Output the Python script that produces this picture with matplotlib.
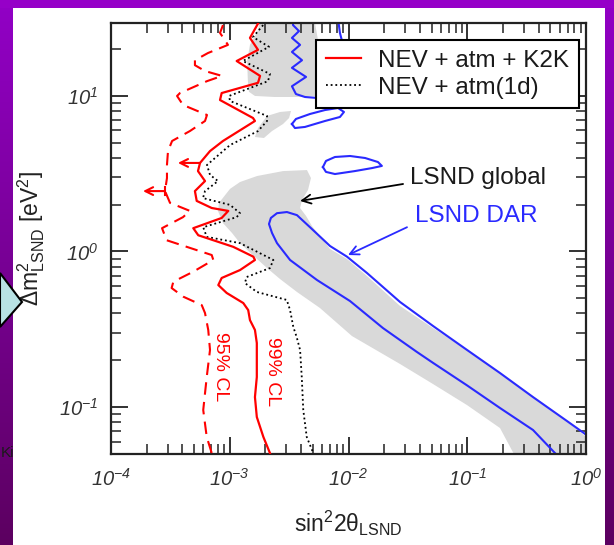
import numpy as np
import matplotlib
matplotlib.use('Agg')
import matplotlib.pyplot as plt
from matplotlib.patches import Polygon
from matplotlib.lines import Line2D
from matplotlib.colors import LinearSegmentedColormap
import matplotlib.ticker as mticker

plt.rcParams['font.family'] = ['Liberation Sans', 'DejaVu Sans']
plt.rcParams['mathtext.fontset'] = 'custom'
plt.rcParams['mathtext.rm'] = 'Liberation Sans'
plt.rcParams['mathtext.it'] = 'Liberation Sans:italic'
plt.rcParams['mathtext.bf'] = 'Liberation Sans:bold'
plt.rcParams['mathtext.sf'] = 'Liberation Sans:italic'

# ---------------- data (sin^2 2theta, dm^2 [eV^2]) ----------------
# 99% CL, NEV + atm + K2K (solid red)
cl99_x = [1.74e-3, 1.48e-3, 1.73e-3, 1.144e-3, 1.80e-3, 1.73e-3, 8.55e-4, 8.28e-4, 1.57e-3, 1.63e-3,
          8.77e-4, 6.82e-4, 5.62e-4, 5.40e-4, 6.19e-4, 5.09e-4, 5.27e-4, 7.05e-4, 9.72e-4, 8.55e-4,
          4.93e-4, 5.43e-4, 1.07e-3, 1.58e-3, 1.63e-3, 1.22e-3, 8.55e-4, 8.01e-4, 9.42e-4, 1.30e-3,
          1.43e-3, 1.48e-3, 1.63e-3, 1.69e-3, 1.69e-3, 1.69e-3, 1.63e-3, 1.69e-3, 1.92e-3, 2.18e-3]
cl99_y = [29.3, 23.5, 19.7, 16.7, 13.4, 12.1, 10.4, 9.38, 7.19, 6.88,
          5.12, 4.41, 3.70, 3.28, 2.83, 2.44, 2.11, 1.90, 1.82, 1.64,
          1.41, 1.27, 1.07, 0.925, 0.881, 0.759, 0.675, 0.608, 0.541, 0.466,
          0.420, 0.362, 0.313, 0.258, 0.2007, 0.156, 0.116, 0.0864, 0.0643, 0.0507]

# 95% CL (dashed red)
cl95_x = [8.77e-4, 8.28e-4, 9.66e-4, 6.56e-4, 5.09e-4, 5.09e-4, 6.19e-4, 8.61e-4, 6.43e-4, 3.81e-4,
          3.60e-4, 4.04e-4, 6.43e-4, 6.19e-4, 4.62e-4, 3.27e-4, 3.02e-4, 2.96e-4, 2.96e-4, 2.85e-4,
          3.14e-4, 4.62e-4, 4.04e-4, 2.69e-4, 2.94e-4, 4.34e-4, 7.05e-4, 7.27e-4, 4.93e-4, 3.35e-4,
          3.24e-4, 4.06e-4, 5.81e-4, 6.19e-4, 6.59e-4, 6.82e-4, 6.40e-4, 5.98e-4, 6.40e-4, 7.05e-4]
cl95_y = [28.4, 25.3, 21.2, 18.8, 16.9, 15.7, 14.4, 13.4, 12.4, 10.4,
          9.96, 8.72, 7.52, 6.88, 5.93, 5.12, 4.41, 3.59, 2.96, 2.44,
          2.05, 1.82, 1.66, 1.41, 1.18, 1.07, 0.948, 0.881, 0.741, 0.639,
          0.582, 0.512, 0.452, 0.402, 0.313, 0.233, 0.156, 0.0958, 0.0643, 0.0507]

# NEV + atm(1d) (dotted black)
atm_x = [1.91e-3, 1.57e-3, 2.14e-3, 1.29e-3, 2.18e-3, 2.10e-3, 9.86e-4, 1.005e-3, 2.06e-3, 2.06e-3,
         1.73e-3, 1.005e-3, 6.43e-4, 6.82e-4, 7.96e-4, 6.19e-4, 5.95e-4, 1.005e-3, 1.22e-3, 1.144e-3,
         5.98e-4, 6.40e-4, 1.22e-3, 2.33e-3, 2.18e-3, 1.39e-3, 1.34e-3, 1.69e-3, 3.02e-3, 3.22e-3,
         3.43e-3, 3.66e-3, 3.91e-3, 4.04e-3, 4.16e-3, 4.45e-3, 5.05e-3]
atm_y = [28.4, 23.8, 20.6, 16.7, 13.8, 12.4, 9.96, 9.25, 7.41, 6.88,
         5.93, 4.82, 3.59, 3.10, 2.83, 2.44, 2.20, 1.99, 1.76, 1.66,
         1.43, 1.24, 1.13, 0.881, 0.782, 0.685, 0.627, 0.549, 0.488, 0.420,
         0.327, 0.282, 0.233, 0.156, 0.0958, 0.0643, 0.0507]

# LSND global allowed region (grey), three pieces
glob_top_x = [1.87e-3, 5.02e-3, 5.53e-3, 5.53e-3, 3.91e-3, 2.40e-3, 1.63e-3, 1.45e-3, 1.42e-3, 1.40e-3, 1.48e-3, 1.73e-3, 1.87e-3]
glob_top_y = [35.0, 35.0, 22.8, 9.96, 9.81, 9.81, 9.96, 10.6, 12.6, 16.7, 21.2, 26.4, 35.0]
glob_mid_x = [1.63e-3, 1.73e-3, 2.06e-3, 2.65e-3, 3.28e-3, 3.16e-3, 2.81e-3, 2.27e-3, 1.94e-3]
glob_mid_y = [5.43, 6.20, 7.41, 7.86, 7.98, 7.19, 6.58, 5.93, 5.35]
glob_main_x = [8.12e-4, 1.005e-3, 1.22e-3, 1.70e-3, 2.81e-3, 4.47e-3, 4.83e-3, 4.56e-3, 4.06e-3, 3.91e-3,
               4.39e-3, 4.93e-3, 6.99e-3, 9.71e-3, 1.43e-2, 2.72e-2, 5.15e-2, 9.95e-2, 0.1887, 0.358,
               0.692, 1.0, 1.0, 0.289, 0.1887, 9.95e-2, 5.15e-2, 2.72e-2, 1.07e-2, 5.75e-3,
               3.68e-3, 2.65e-3, 2.06e-3, 1.63e-3, 1.22e-3, 1.045e-3, 8.77e-4, 7.96e-4]
glob_main_y = [2.05, 2.52, 2.79, 3.05, 3.28, 3.33, 2.96, 2.48, 2.14, 1.90,
               1.69, 1.455, 1.036, 0.894, 0.695, 0.446, 0.322, 0.233, 0.1656, 0.1178,
               0.0814, 0.0643, 0.04, 0.04, 0.0734, 0.1031, 0.1407, 0.1891, 0.286, 0.433,
               0.549, 0.665, 0.782, 0.92, 1.13, 1.313, 1.52, 1.82]

# LSND DAR contour (blue)
dar_x = [1.19, 0.692, 0.358, 0.1887, 9.95e-2, 7.16e-2, 5.15e-2, 2.72e-2, 1.43e-2, 9.71e-3,
         6.99e-3, 4.74e-3, 3.68e-3, 3.03e-3, 2.50e-3, 2.22e-3, 2.14e-3, 2.27e-3, 2.50e-3, 3.22e-3,
         5.43e-3, 1.03e-2, 1.95e-2, 3.77e-2, 5.15e-2, 9.95e-2, 0.1887, 0.358, 0.548, 0.604]
dar_y = [0.0606, 0.0814, 0.116, 0.1656, 0.233, 0.278, 0.332, 0.473, 0.727, 0.925,
         1.083, 1.43, 1.71, 1.79, 1.76, 1.64, 1.50, 1.313, 1.13, 0.881,
         0.655, 0.480, 0.322, 0.226, 0.1924, 0.1380, 0.0987, 0.0713, 0.0507, 0.0471]
dar_top1_x = [3.41e-3, 3.41e-3, 3.83e-3, 3.34e-3, 3.91e-3, 3.34e-3, 4.06e-3, 3.34e-3, 4.39e-3, 3.34e-3, 3.61e-3, 4.30e-3, 5.53e-3, 6.99e-3]
dar_top1_y = [35.0, 28.4, 26.0, 23.5, 21.2, 19.1, 16.9, 15.1, 13.2, 11.5, 10.25, 9.81, 9.66, 9.81]
dar_top2_x = [8.0e-3, 8.47e-3, 8.99e-3, 9.33e-3]
dar_top2_y = [35.0, 25.3, 21.2, 16.9]
dar_isl1_x = [3.34e-3, 3.61e-3, 4.74e-3, 6.34e-3, 8.16e-3, 9.16e-3, 8.47e-3, 6.34e-3, 4.30e-3, 3.54e-3, 3.34e-3]
dar_isl1_y = [6.58, 7.09, 7.63, 8.09, 8.34, 7.86, 7.30, 6.88, 6.30, 6.20, 6.58]
dar_isl2_x = [6.09e-3, 6.46e-3, 7.69e-3, 1.03e-2, 1.38e-2, 1.77e-2, 1.91e-2, 1.58e-2, 1.13e-2, 7.69e-3, 6.46e-3, 6.09e-3]
dar_isl2_y = [3.48, 3.81, 4.04, 4.10, 3.98, 3.75, 3.54, 3.43, 3.28, 3.14, 3.24, 3.48]

xticks = [1e-4, 1e-3, 1e-2, 1e-1, 1e0]
xticklabels = [r'$\mathsf{10^{-4}}$', r'$\mathsf{10^{-3}}$', r'$\mathsf{10^{-2}}$',
               r'$\mathsf{10^{-1}}$', r'$\mathsf{10^{0}}$']
yticks = [1e-1, 1e0, 1e1]
yticklabels = [r'$\mathsf{10^{-1}}$', r'$\mathsf{10^{0}}$', r'$\mathsf{10^{1}}$']
legend_labels = ['NEV + atm + K2K', 'NEV + atm(1d)']

# ---------------- figure / slide background ----------------
W, H = 614, 545
fig = plt.figure(figsize=(W / 100, H / 100), dpi=100, facecolor='white')

grad = np.linspace(0, 1, 256).reshape(-1, 1)
slide_cmap = LinearSegmentedColormap.from_list('slide', ['#9200c6', '#5c0060'])
for (x0, w0) in [(0, 12.7), (605, 9)]:
    bax = fig.add_axes([x0 / W, 0, w0 / W, 1])
    bax.imshow(grad, aspect='auto', cmap=slide_cmap, extent=[0, 1, 0, 1])
    bax.set_axis_off()
tax = fig.add_axes([0, 1 - 8 / H, 1, 8 / H])
tax.set_facecolor('#9600c8')
tax.set_xticks([]); tax.set_yticks([])
for s in tax.spines.values():
    s.set_visible(False)

fig.patches.append(Polygon([[0, 1 - 273 / H], [22 / W, 1 - 302 / H], [0, 1 - 327 / H]], closed=True,
                           transform=fig.transFigure, facecolor='#b8e2e4', edgecolor='black', lw=1.5, zorder=5))
fig.text(0.5 / W, 1 - 453 / H, 'Ki', ha='left', va='center', fontsize=11, color='#1a1a1a', zorder=6)

# ---------------- main axes ----------------
ax = fig.add_axes([111 / W, (H - 454) / H, 475 / W, 431 / H])
ax.set_xscale('log')
ax.set_yscale('log')
ax.set_xlim(1e-4, 1e0)
ax.set_ylim(0.05, 29.3)

grey = '#d9d9d9'
ax.fill(glob_top_x, glob_top_y, color=grey, lw=0, zorder=1)
ax.fill(glob_mid_x, glob_mid_y, color=grey, lw=0, zorder=1)
ax.fill(glob_main_x, glob_main_y, color=grey, lw=0, zorder=1)

blue = '#2a2aff'
for bx, by in [(dar_x, dar_y), (dar_top1_x, dar_top1_y), (dar_top2_x, dar_top2_y),
               (dar_isl1_x, dar_isl1_y), (dar_isl2_x, dar_isl2_y)]:
    ax.plot(bx, by, color=blue, lw=1.5, zorder=2, solid_joinstyle='round')

ax.plot(atm_x, atm_y, color='black', lw=1.3, ls=(0, (1, 1.6)), zorder=3)
ax.plot(cl95_x, cl95_y, color='red', lw=1.5, ls=(0, (6, 3.5)), zorder=3)
ax.plot(cl99_x, cl99_y, color='red', lw=1.6, zorder=3, solid_joinstyle='round')

# arrows
ax.annotate('', xy=(3.66e-4, 3.70), xytext=(5.62e-4, 3.70),
            arrowprops=dict(arrowstyle='->', color='red', lw=1.5, mutation_scale=14, shrinkA=0, shrinkB=0), zorder=4)
ax.annotate('', xy=(1.86e-4, 2.44), xytext=(2.85e-4, 2.44),
            arrowprops=dict(arrowstyle='->', color='red', lw=1.5, mutation_scale=14, shrinkA=0, shrinkB=0), zorder=4)
ax.plot([2.85e-4, 2.85e-4], [2.30, 2.58], color='red', lw=1.5, zorder=4)

ax.annotate('', xy=(3.91e-3, 2.11), xytext=(2.88e-2, 2.71),
            arrowprops=dict(arrowstyle='->', color='black', lw=1.3, mutation_scale=16, shrinkA=0, shrinkB=0), zorder=4)
ax.text(3.30e-2, 2.96, 'LSND global', fontsize=17.5, color='#1a1a1a', ha='left', va='center', zorder=4)
ax.annotate('', xy=(9.9e-3, 0.948), xytext=(3.11e-2, 1.43),
            arrowprops=dict(arrowstyle='->', color=blue, lw=1.3, mutation_scale=16, shrinkA=0, shrinkB=0), zorder=4)
ax.text(3.63e-2, 1.69, 'LSND DAR', fontsize=17.5, color=blue, ha='left', va='center', zorder=4)

ax.text(8.28e-4, 0.181, '95% CL', fontsize=14, color='red', rotation=-90, ha='center', va='center', zorder=4)
ax.text(2.27e-3, 0.168, '99% CL', fontsize=14, color='red', rotation=-90, ha='center', va='center', zorder=4)

# legend
handles = [Line2D([], [], color='red', lw=1.6),
           Line2D([], [], color='black', lw=1.3, ls=(0, (1, 1.6)))]
leg = ax.legend(handles, legend_labels, loc='upper right', bbox_to_anchor=(0.9853, 0.9606),
                borderaxespad=0, fontsize=17.5, handlelength=1.45, handletextpad=0.7,
                borderpad=0.4, labelspacing=0.2, fancybox=False, framealpha=1, edgecolor='black')
leg.get_frame().set_linewidth(1.5)
leg.set_zorder(10)
for t in leg.get_texts():
    t.set_color('#1a1a1a')

# ticks
ax.set_xticks(xticks)
ax.set_xticklabels(xticklabels)
ax.set_yticks(yticks)
ax.set_yticklabels(yticklabels)
ax.xaxis.set_minor_locator(mticker.LogLocator(base=10, subs=np.arange(2, 10), numticks=20))
ax.yaxis.set_minor_locator(mticker.LogLocator(base=10, subs=np.arange(2, 10), numticks=20))
ax.xaxis.set_minor_formatter(mticker.NullFormatter())
ax.yaxis.set_minor_formatter(mticker.NullFormatter())
ax.tick_params(which='both', direction='in', top=True, right=True, colors='#222222', labelcolor='#333333')
ax.tick_params(which='major', length=12, width=1.3, labelsize=14.5)
ax.tick_params(which='minor', length=7, width=1.1)
ax.tick_params(axis='x', which='major', pad=10)
ax.tick_params(axis='y', which='major', pad=9)
for s in ax.spines.values():
    s.set_linewidth(1.6)
    s.set_color('#222222')

ax.set_xlabel(r'$\mathrm{sin^2 2θ_{LSND}}$', fontsize=16.5, color='#222222')
ax.set_ylabel(r'$\mathrm{Δm^2_{LSND}\ [eV^2]}$', fontsize=16.5, color='#222222')
ax.xaxis.set_label_coords(0.5, -0.128)
ax.yaxis.set_label_coords(-0.135, 0.5)

fig.savefig('out.png', dpi=100, facecolor='white')
